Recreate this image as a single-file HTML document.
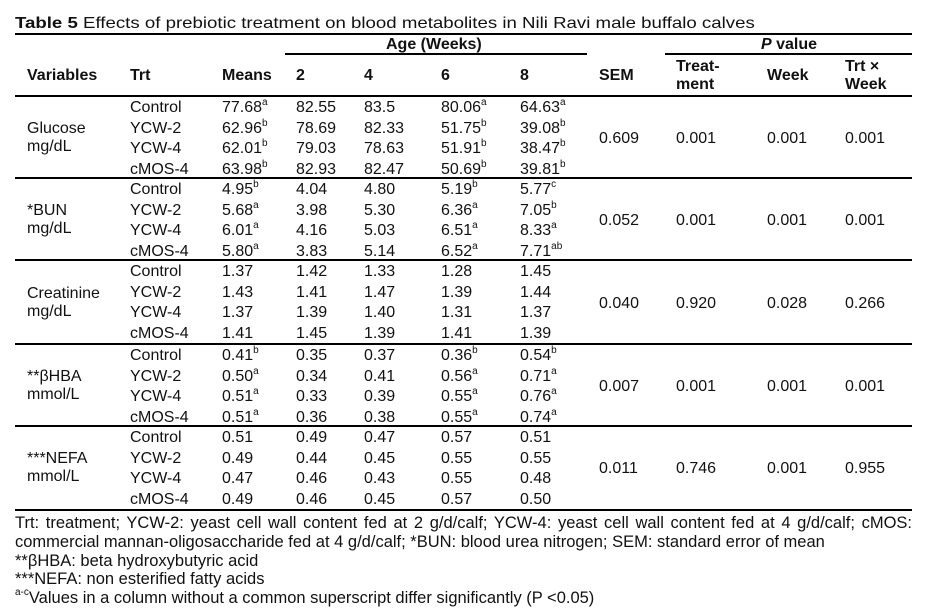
<!DOCTYPE html>
<html><head><meta charset="utf-8"><style>
body{margin:0;width:951px;height:614px;background:#fff;position:relative;font-family:"Liberation Sans",Arial,sans-serif;font-size:16px;color:#111;overflow:hidden}
div{position:absolute;white-space:nowrap;line-height:18px}
.l{position:absolute;height:2px;background:#000}
b{font-weight:bold}
sup{font-size:10px;vertical-align:top;line-height:10px;position:relative;top:-1px}
.r{left:0;width:951px;height:18px}
.r span{position:absolute;top:0}
.a{left:130px}.m{left:222px}.w2{left:296px}.w4{left:364px}.w6{left:441px}.w8{left:520px}
.f{font-size:16.5px}
</style></head><body>
<div style="left:15px;top:15px;transform:scaleX(1.165);transform-origin:left center"><b>Table 5</b> Effects of prebiotic treatment on blood metabolites in Nili Ravi male buffalo calves</div>
<div class="l" style="left:15px;top:33px;width:897px"></div>
<div style="left:386px;top:36px;font-weight:bold">Age (Weeks)</div>
<div class="l" style="left:285px;top:53px;width:302px"></div>
<div style="left:761px;top:36px;font-weight:bold"><i>P</i> value</div>
<div class="l" style="left:665px;top:53px;width:247px"></div>
<div style="left:27px;top:67px;font-weight:bold">Variables</div>
<div style="left:130px;top:67px;font-weight:bold">Trt</div>
<div style="left:222px;top:67px;font-weight:bold">Means</div>
<div style="left:296px;top:67px;font-weight:bold">2</div>
<div style="left:364px;top:67px;font-weight:bold">4</div>
<div style="left:441px;top:67px;font-weight:bold">6</div>
<div style="left:520px;top:67px;font-weight:bold">8</div>
<div style="left:599px;top:67px;font-weight:bold">SEM</div>
<div style="left:676px;top:58px;font-weight:bold;line-height:18px">Treat-<br>ment</div>
<div style="left:767px;top:67px;font-weight:bold">Week</div>
<div style="left:845px;top:58px;font-weight:bold;line-height:18px">Trt ×<br>Week</div>
<div class="l" style="left:15px;top:95px;width:897px"></div>

<!-- Group 1 -->
<div class="r" style="top:99px"><span class="a">Control</span><span class="m">77.68<sup>a</sup></span><span class="w2">82.55</span><span class="w4">83.5</span><span class="w6">80.06<sup>a</sup></span><span class="w8">64.63<sup>a</sup></span></div>
<div class="r" style="top:120px"><span class="a">YCW-2</span><span class="m">62.96<sup>b</sup></span><span class="w2">78.69</span><span class="w4">82.33</span><span class="w6">51.75<sup>b</sup></span><span class="w8">39.08<sup>b</sup></span></div>
<div class="r" style="top:140px"><span class="a">YCW-4</span><span class="m">62.01<sup>b</sup></span><span class="w2">79.03</span><span class="w4">78.63</span><span class="w6">51.91<sup>b</sup></span><span class="w8">38.47<sup>b</sup></span></div>
<div class="r" style="top:161px"><span class="a">cMOS-4</span><span class="m">63.98<sup>b</sup></span><span class="w2">82.93</span><span class="w4">82.47</span><span class="w6">50.69<sup>b</sup></span><span class="w8">39.81<sup>b</sup></span></div>
<div style="left:27px;top:120px">Glucose<br>mg/dL</div>
<div class="r" style="top:130px"><span style="left:599px">0.609</span><span style="left:676px">0.001</span><span style="left:767px">0.001</span><span style="left:845px">0.001</span></div>
<div class="l" style="left:15px;top:177px;width:897px"></div>

<!-- Group 2 -->
<div class="r" style="top:181px"><span class="a">Control</span><span class="m">4.95<sup>b</sup></span><span class="w2">4.04</span><span class="w4">4.80</span><span class="w6">5.19<sup>b</sup></span><span class="w8">5.77<sup>c</sup></span></div>
<div class="r" style="top:202px"><span class="a">YCW-2</span><span class="m">5.68<sup>a</sup></span><span class="w2">3.98</span><span class="w4">5.30</span><span class="w6">6.36<sup>a</sup></span><span class="w8">7.05<sup>b</sup></span></div>
<div class="r" style="top:222px"><span class="a">YCW-4</span><span class="m">6.01<sup>a</sup></span><span class="w2">4.16</span><span class="w4">5.03</span><span class="w6">6.51<sup>a</sup></span><span class="w8">8.33<sup>a</sup></span></div>
<div class="r" style="top:243px"><span class="a">cMOS-4</span><span class="m">5.80<sup>a</sup></span><span class="w2">3.83</span><span class="w4">5.14</span><span class="w6">6.52<sup>a</sup></span><span class="w8">7.71<sup>ab</sup></span></div>
<div style="left:27px;top:202px">*BUN<br>mg/dL</div>
<div class="r" style="top:212px"><span style="left:599px">0.052</span><span style="left:676px">0.001</span><span style="left:767px">0.001</span><span style="left:845px">0.001</span></div>
<div class="l" style="left:15px;top:259px;width:897px"></div>

<!-- Group 3 -->
<div class="r" style="top:263px"><span class="a">Control</span><span class="m">1.37</span><span class="w2">1.42</span><span class="w4">1.33</span><span class="w6">1.28</span><span class="w8">1.45</span></div>
<div class="r" style="top:284px"><span class="a">YCW-2</span><span class="m">1.43</span><span class="w2">1.41</span><span class="w4">1.47</span><span class="w6">1.39</span><span class="w8">1.44</span></div>
<div class="r" style="top:304px"><span class="a">YCW-4</span><span class="m">1.37</span><span class="w2">1.39</span><span class="w4">1.40</span><span class="w6">1.31</span><span class="w8">1.37</span></div>
<div class="r" style="top:325px"><span class="a">cMOS-4</span><span class="m">1.41</span><span class="w2">1.45</span><span class="w4">1.39</span><span class="w6">1.41</span><span class="w8">1.39</span></div>
<div style="left:27px;top:285px">Creatinine<br>mg/dL</div>
<div class="r" style="top:295px"><span style="left:599px">0.040</span><span style="left:676px">0.920</span><span style="left:767px">0.028</span><span style="left:845px">0.266</span></div>
<div class="l" style="left:15px;top:343px;width:897px"></div>

<!-- Group 4 -->
<div class="r" style="top:347px"><span class="a">Control</span><span class="m">0.41<sup>b</sup></span><span class="w2">0.35</span><span class="w4">0.37</span><span class="w6">0.36<sup>b</sup></span><span class="w8">0.54<sup>b</sup></span></div>
<div class="r" style="top:368px"><span class="a">YCW-2</span><span class="m">0.50<sup>a</sup></span><span class="w2">0.34</span><span class="w4">0.41</span><span class="w6">0.56<sup>a</sup></span><span class="w8">0.71<sup>a</sup></span></div>
<div class="r" style="top:388px"><span class="a">YCW-4</span><span class="m">0.51<sup>a</sup></span><span class="w2">0.33</span><span class="w4">0.39</span><span class="w6">0.55<sup>a</sup></span><span class="w8">0.76<sup>a</sup></span></div>
<div class="r" style="top:409px"><span class="a">cMOS-4</span><span class="m">0.51<sup>a</sup></span><span class="w2">0.36</span><span class="w4">0.38</span><span class="w6">0.55<sup>a</sup></span><span class="w8">0.74<sup>a</sup></span></div>
<div style="left:27px;top:368px">**βHBA<br>mmol/L</div>
<div class="r" style="top:378px"><span style="left:599px">0.007</span><span style="left:676px">0.001</span><span style="left:767px">0.001</span><span style="left:845px">0.001</span></div>
<div class="l" style="left:15px;top:425px;width:897px"></div>

<!-- Group 5 -->
<div class="r" style="top:429px"><span class="a">Control</span><span class="m">0.51</span><span class="w2">0.49</span><span class="w4">0.47</span><span class="w6">0.57</span><span class="w8">0.51</span></div>
<div class="r" style="top:450px"><span class="a">YCW-2</span><span class="m">0.49</span><span class="w2">0.44</span><span class="w4">0.45</span><span class="w6">0.55</span><span class="w8">0.55</span></div>
<div class="r" style="top:470px"><span class="a">YCW-4</span><span class="m">0.47</span><span class="w2">0.46</span><span class="w4">0.43</span><span class="w6">0.55</span><span class="w8">0.48</span></div>
<div class="r" style="top:491px"><span class="a">cMOS-4</span><span class="m">0.49</span><span class="w2">0.46</span><span class="w4">0.45</span><span class="w6">0.57</span><span class="w8">0.50</span></div>
<div style="left:27px;top:450px">***NEFA<br>mmol/L</div>
<div class="r" style="top:460px"><span style="left:599px">0.011</span><span style="left:676px">0.746</span><span style="left:767px">0.001</span><span style="left:845px">0.955</span></div>
<div class="l" style="left:15px;top:509px;width:897px"></div>

<!-- Footer -->
<div class="f" style="left:15px;top:514px;width:897px;white-space:normal;text-align:justify;line-height:18.7px">Trt: treatment; YCW-2: yeast cell wall content fed at 2 g/d/calf; YCW-4: yeast cell wall content fed at 4 g/d/calf; cMOS: commercial mannan-oligosaccharide fed at 4 g/d/calf; *BUN: blood urea nitrogen; SEM: standard error of mean</div>
<div class="f" style="left:15px;top:552px">**βHBA: beta hydroxybutyric acid</div>
<div class="f" style="left:15px;top:570px">***NEFA: non esterified fatty acids</div>
<div class="f" style="left:15px;top:589px"><sup>a-c</sup>Values in a column without a common superscript differ significantly (P &lt;0.05)</div>
</body></html>
